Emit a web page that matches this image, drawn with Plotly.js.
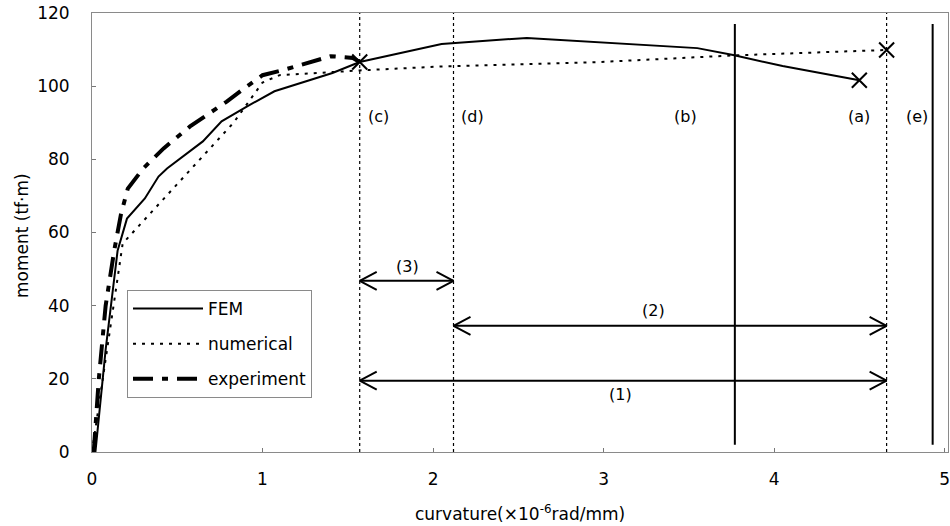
<!DOCTYPE html>
<html>
<head>
<meta charset="utf-8">
<script src="https://cdn.plot.ly/plotly-3.0.1.min.js"></script>
<style>html,body{margin:0;padding:0;background:#fff;}#chart{width:950px;height:526px;}</style>
</head>
<body>
<div id="chart"></div>
<script>
// ---- data ----
const femX = [0.02, 0.08, 0.15, 0.205, 0.31, 0.39, 0.44, 0.65, 0.76, 0.91, 1.07, 1.41, 1.57, 2.05, 2.55, 3.55, 3.76, 4.05, 4.50];
const femY = [0, 28, 55, 63.8, 69.3, 75.3, 77.5, 84.9, 90.4, 94.5, 98.6, 103.6, 106.6, 111.5, 113.2, 110.4, 108.5, 105.5, 101.6];

const numX = [0, 0.18, 0.83, 1.0, 1.1, 1.57, 2.05, 2.98, 3.76, 4.66];
const numY = [0, 57, 90, 101, 103, 104.3, 105.4, 106.6, 108.4, 109.9];

const expX = [0.01, 0.04, 0.08, 0.13, 0.17, 0.21, 0.30, 0.42, 0.575, 0.79, 0.91, 1.0, 1.12, 1.26, 1.40, 1.53, 1.57];
const expY = [0, 20, 40, 55, 65, 72, 77.5, 83, 89, 95.8, 100, 103, 104.4, 106.3, 108.2, 107.7, 106.6];

const seriesNames = ["FEM", "numerical", "experiment"];

// reference lines
const vLineX = [1.57, 2.12, 3.77, 4.66, 4.93];
const vLineKind = ["dot", "dot", "solid", "dot", "solid"];
const vLineLabels = ["(c)", "(d)", "(b)", "(a)", "(e)"];
const vLabelX = [1.68, 2.23, 3.48, 4.50, 4.84];
const vLabelY = 91.6;

// range arrows
const arrowLabels = ["(3)", "(2)", "(1)"];
const arrowFrom = [1.57, 2.12, 1.57];
const arrowTo = [2.12, 4.66, 4.66];
const arrowY = [46.8, 34.5, 19.5];
const arrowLabelX = [1.85, 3.29, 3.10];
const arrowLabelY = [50.6, 38.8, 15.6];

const xTicks = [0, 1, 2, 3, 4, 5];
const yTicks = [0, 20, 40, 60, 80, 100, 120];
const xTitle = "curvature(×10<sup>-6</sup>rad/mm)";
const yTitle = "moment (tf·m)";

// ---- layout geometry ----
const W = 950, H = 526;
const M = {l: 92, r: 2, t: 13, b: 74};
const xRange = [0, 5.02], yRange = [0, 120];
const PW = W - M.l - M.r, PH = H - M.t - M.b;
const pxPerX = PW / (xRange[1] - xRange[0]);
const pxPerY = PH / (yRange[1] - yRange[0]);
const headLen = 17 / pxPerX, headHalf = 9 / pxPerY;

const FONT = "DejaVu Sans, Arial, sans-serif";
const traces = [];

traces.push({x: femX, y: femY, name: seriesNames[0], mode: "lines", legendgroup: "a",
  line: {color: "#000", width: 2}, hoverinfo: "skip"});
traces.push({x: numX, y: numY, name: seriesNames[1], mode: "lines", legendgroup: "b",
  line: {color: "#000", width: 2, dash: "3px,6px"}, hoverinfo: "skip"});
traces.push({x: expX, y: expY, name: seriesNames[2], mode: "lines", legendgroup: "c",
  line: {color: "#000", width: 4, dash: "20px,9px,6px,9px"}, hoverinfo: "skip"});

// failure markers at end points
traces.push({
  x: [femX[femX.length - 1], numX[numX.length - 1], expX[expX.length - 1]],
  y: [femY[femY.length - 1], numY[numY.length - 1], expY[expY.length - 1]],
  mode: "markers", showlegend: false, hoverinfo: "skip",
  marker: {symbol: "x-thin-open", size: 15, color: "#000", line: {width: 2, color: "#000"}}
});

// double-headed range arrows
const ax = [], ay = [];
for (let i = 0; i < arrowFrom.length; i++) {
  const a = arrowFrom[i], b = arrowTo[i], y = arrowY[i];
  ax.push(a, b, null, a + headLen, a, a + headLen, null, b - headLen, b, b - headLen, null);
  ay.push(y, y, null, y + headHalf, y, y - headHalf, null, y + headHalf, y, y - headHalf, null);
}
traces.push({x: ax, y: ay, mode: "lines", showlegend: false, hoverinfo: "skip",
  line: {color: "#000", width: 2}});

const shapes = vLineX.map((x, i) => ({
  type: "line", xref: "x", yref: "y", x0: x, x1: x,
  y0: vLineKind[i] === "solid" ? 2 : 0, y1: vLineKind[i] === "solid" ? 117 : 120,
  line: {color: "#000", width: vLineKind[i] === "solid" ? 2 : 1.2, dash: vLineKind[i]}
}));

const annotations = [];
vLineLabels.forEach((t, i) => annotations.push({x: vLabelX[i], y: vLabelY, xref: "x", yref: "y",
  text: t, showarrow: false, font: {family: FONT, size: 16, color: "#000"}}));
arrowLabels.forEach((t, i) => annotations.push({x: arrowLabelX[i], y: arrowLabelY[i], xref: "x", yref: "y",
  text: t, showarrow: false, font: {family: FONT, size: 16, color: "#000"}}));
// axis titles placed where the reference has them
annotations.push({x: (520 - M.l) / PW, y: -(513 - (H - M.b)) / PH,
  xref: "paper", yref: "paper", text: xTitle, showarrow: false, xanchor: "center", yanchor: "middle",
  font: {family: FONT, size: 17, color: "#000"}});
annotations.push({x: (22 - M.l) / PW, y: ((H - M.b) - 236) / PH,
  xref: "paper", yref: "paper", text: yTitle, textangle: -90, showarrow: false, xanchor: "center", yanchor: "middle",
  font: {family: FONT, size: 17, color: "#000"}});

const axisCommon = {
  showgrid: false, zeroline: false, showline: true, mirror: true,
  linecolor: "#8a8a8a", linewidth: 1, ticks: "inside", ticklen: 4, tickcolor: "#777",
  tickfont: {family: FONT, size: 17, color: "#000"}, fixedrange: true, ticklabeloverflow: "allow"
};

const layout = {
  width: W, height: H, margin: M,
  paper_bgcolor: "#fff", plot_bgcolor: "#fff",
  showlegend: true,
  legend: {
    x: (127 - M.l) / PW, y: ((H - M.b) - 290) / PH,
    xanchor: "left", yanchor: "top", bgcolor: "#fff", bordercolor: "#8a8a8a", borderwidth: 1,
    font: {family: FONT, size: 17, color: "#000"}, tracegroupgap: 10, itemwidth: 70
  },
  xaxis: Object.assign({}, axisCommon, {range: xRange, tickvals: xTicks, ticktext: xTicks.map(String), ticklabelstandoff: 12}),
  yaxis: Object.assign({}, axisCommon, {range: yRange, tickvals: yTicks, ticktext: yTicks.map(String), ticklabelstandoff: 18}),
  shapes: shapes,
  annotations: annotations
};

Plotly.newPlot("chart", traces, layout, {displayModeBar: false, staticPlot: true});
</script>
</body>
</html>
